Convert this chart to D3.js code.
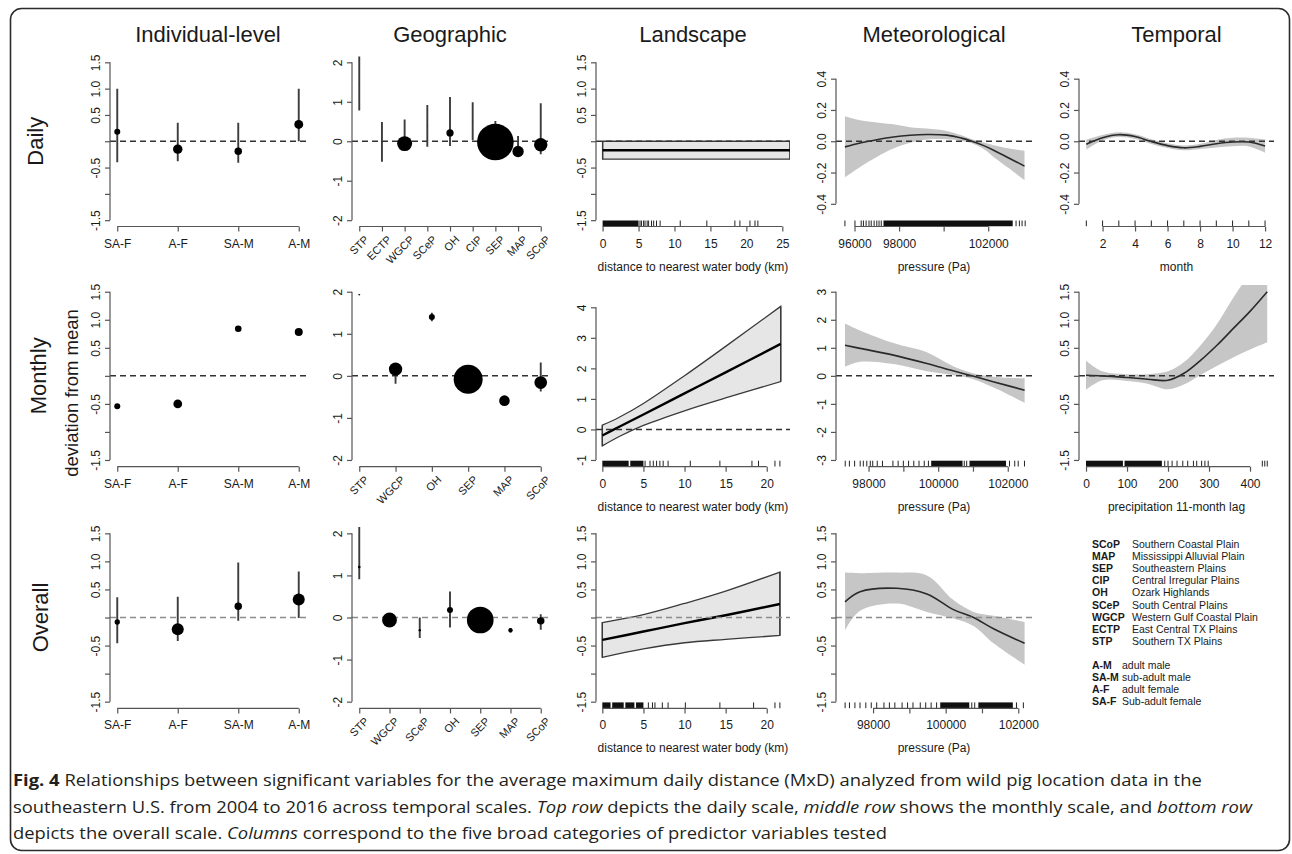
<!DOCTYPE html>
<html>
<head>
<meta charset="utf-8">
<script src="https://cdn.jsdelivr.net/npm/d3@7"></script>
<style>
  body { margin: 0; background: #fff; }
  svg text { font-family: "Liberation Sans", Arial, Helvetica, sans-serif; fill: #1a1a1a; }
</style>
</head>
<body>
<svg id="fig" width="1292" height="854"></svg>
<script>
// ---- labels ----
const columnTitles = ['Individual-level', 'Geographic', 'Landscape', 'Meteorological', 'Temporal'];
const rowTitles = ['Daily', 'Monthly', 'Overall'];

// ---- individual-level (sex / age class) ----
const sexAge = ['SA-F', 'A-F', 'SA-M', 'A-M'];
const indivDailyEst = [0.18, -0.15, -0.19, 0.32];
const indivDailyLo = [-0.40, -0.38, -0.41, 0.00];
const indivDailyHi = [1.00, 0.35, 0.35, 1.00];
const indivDailyN = [9, 22, 14, 20];
const indivMonthlyEst = [-0.54, -0.50, 0.84, 0.78];
const indivMonthlyLo = [-0.56, -0.53, 0.82, 0.76];
const indivMonthlyHi = [-0.52, -0.47, 0.86, 0.80];
const indivMonthlyN = [9, 19, 11, 16];
const indivOverallEst = [-0.08, -0.21, 0.20, 0.32];
const indivOverallLo = [-0.46, -0.42, -0.06, -0.01];
const indivOverallHi = [0.36, 0.37, 0.98, 0.82];
const indivOverallN = [7, 36, 14, 36];

// ---- geographic (ecoregion) ----
const geoDailyCats = ['STP', 'ECTP', 'WGCP', 'SCeP', 'OH', 'CIP', 'SEP', 'MAP', 'SCoP'];
const geoDailyEst = [1.45, 0.00, -0.06, 0.39, 0.21, 0.50, -0.02, -0.26, -0.09];
const geoDailyLo = [0.78, -0.52, -0.20, -0.14, -0.12, 0.03, -0.30, -0.30, -0.33];
const geoDailyHi = [2.15, 0.49, 0.55, 0.92, 1.12, 0.99, 0.51, 0.13, 0.96];
const geoDailyN = [0.1, 0.1, 56, 0.1, 13, 0.1, 335, 32, 45];
const geoMonthlyCats = ['STP', 'WGCP', 'OH', 'SEP', 'MAP', 'SCoP'];
const geoMonthlyEst = [1.93, 0.16, 1.40, -0.08, -0.59, -0.16];
const geoMonthlyLo = [1.92, -0.19, 1.30, -0.10, -0.61, -0.37];
const geoMonthlyHi = [1.94, 0.30, 1.50, -0.06, -0.57, 0.32];
const geoMonthlyN = [0.5, 45, 9, 210, 28, 40];
const geoOverallCats = ['STP', 'WGCP', 'SCeP', 'OH', 'SEP', 'MAP', 'SCoP'];
const geoOverallEst = [1.20, -0.06, -0.30, 0.18, -0.06, -0.30, -0.08];
const geoOverallLo = [0.91, -0.08, -0.49, -0.24, -0.08, -0.36, -0.29];
const geoOverallHi = [2.15, -0.04, 0.00, 0.62, -0.04, -0.25, 0.08];
const geoOverallN = [1.7, 55, 1.4, 9, 178, 4.8, 14];

// ---- landscape: distance to nearest water body (km) ----
const waterDailyKm = [0, 26.07];
const waterDailyFit = [-0.17, -0.17];
const waterDailyLo = [-0.34, -0.34];
const waterDailyHi = [0.00, 0.00];
const waterDailyRug = [5.2, 5.4, 5.7, 5.9, 6.2, 6.4, 6.8, 7.1, 7.5, 8.0, 10.8, 14.5, 18.4, 19.1, 20.5, 21.2, 21.6];
const waterDailyRugDense = [[0, 5.0]];
const waterMonthlyKm = [0, 2, 5, 10, 15, 21.7];
const waterMonthlyFit = [-0.20, 0.08, 0.49, 1.18, 1.87, 2.80];
const waterMonthlyLo = [-0.54, -0.24, 0.13, 0.61, 1.03, 1.57];
const waterMonthlyHi = [0.14, 0.39, 0.85, 1.76, 2.72, 4.03];
const waterMonthlyRug = [5.2, 5.8, 6.2, 6.6, 7.0, 7.4, 8.0, 10.7, 14.3, 18.2, 19.0, 21.0, 21.6];
const waterMonthlyRugDense = [[0, 3.2], [3.4, 5.0]];
const waterOverallKm = [0, 5, 10, 15, 21.6];
const waterOverallFit = [-0.40, -0.25, -0.10, 0.04, 0.24];
const waterOverallLo = [-0.71, -0.56, -0.45, -0.39, -0.32];
const waterOverallHi = [-0.09, 0.05, 0.25, 0.47, 0.81];
const waterOverallRug = [5.6, 6.1, 6.4, 7.3, 8.0, 10.1, 14.3, 18.4, 21.0, 21.6];
const waterOverallRugDense = [[0, 1.0], [1.2, 2.6], [2.8, 3.9], [4.1, 5.0]];

// ---- meteorological: pressure (Pa) ----
const presDailyPa = [95570, 96250, 97000, 97740, 98500, 99240, 100140, 100800, 101270, 101800, 102240, 102900, 103630];
const presDailyFit = [-0.036, -0.011, 0.010, 0.027, 0.038, 0.043, 0.039, 0.020, 0.000, -0.028, -0.057, -0.105, -0.159];
const presDailyLo = [-0.230, -0.164, -0.100, -0.047, -0.010, 0.011, 0.012, 0.002, -0.012, -0.050, -0.100, -0.170, -0.248];
const presDailyHi = [0.160, 0.134, 0.120, 0.108, 0.090, 0.081, 0.066, 0.038, 0.012, -0.008, -0.025, -0.045, -0.062];
const presDailyRug = [95570, 96020, 96300, 96400, 96520, 96650, 96750, 96880, 97000, 97100, 97200,
  103250, 103400, 103520, 103660];
const presDailyRugDense = [[97300, 103100]];
const presMonthlyPa = [97324, 97755, 98715, 99675, 100400, 100970, 101580, 102484];
const presMonthlyFit = [1.09, 0.98, 0.74, 0.44, 0.19, 0.00, -0.21, -0.51];
const presMonthlyLo = [0.32, 0.50, 0.42, 0.16, 0.03, -0.10, -0.41, -0.96];
const presMonthlyHi = [1.87, 1.62, 1.17, 0.84, 0.36, 0.10, -0.03, -0.09];
const presMonthlyRug = [97330, 97450, 97600, 97760, 97850, 97950, 98050, 98120, 98250, 98400, 98700, 98850, 99000,
  99150, 99300, 99450, 99600, 99720, 100750, 100820, 102050, 102200, 102300, 102480];
const presMonthlyRugDense = [[99800, 100700], [100900, 101950]];
const presOverallPa = [97228, 97641, 98654, 99481, 100215, 100767, 101319, 102174];
const presOverallFit = [0.28, 0.46, 0.52, 0.42, 0.14, 0.00, -0.20, -0.46];
const presOverallLo = [-0.23, 0.12, 0.25, 0.10, -0.02, -0.15, -0.46, -0.84];
const presOverallHi = [0.80, 0.79, 0.80, 0.75, 0.31, 0.10, 0.03, -0.08];
const presOverallRug = [97230, 97350, 97500, 97640, 97800, 97950, 98100, 98300, 98450, 98600, 98800, 98950, 99100,
  99300, 99450, 99600, 99750, 100720, 100800, 101950, 102140];
const presOverallRugDense = [[99850, 100650], [100900, 101850]];

// ---- temporal ----
const months = [1, 2, 3, 4, 5, 6, 7, 8, 9, 10, 11, 12];
const monthFit = [-0.019, 0.023, 0.042, 0.030, -0.002, -0.028, -0.042, -0.033, -0.016, -0.005, -0.005, -0.030];
const monthLo = [-0.053, 0.005, 0.027, 0.015, -0.017, -0.043, -0.058, -0.050, -0.040, -0.032, -0.033, -0.072];
const monthHi = [0.011, 0.040, 0.057, 0.045, 0.013, -0.013, -0.027, -0.016, 0.008, 0.022, 0.023, 0.012];
const precip = [0, 40, 100, 150, 200, 240, 280, 320, 360, 400, 442];
const precipFit = [0.01, 0.00, -0.03, -0.06, -0.08, 0.05, 0.28, 0.55, 0.85, 1.15, 1.50];
const precipLo = [-0.25, -0.08, -0.09, -0.14, -0.24, -0.15, 0.02, 0.18, 0.33, 0.47, 0.60];
const precipHi = [0.27, 0.08, 0.03, 0.03, 0.08, 0.25, 0.55, 0.93, 1.40, 1.85, 2.40];
const precipRug = [192, 200, 210, 222, 236, 248, 262, 270, 282, 290, 298, 430, 436, 442];
const precipRugDense = [[0, 90], [94, 185]];

// ---- ticks ----
const halfTicks = [-1.5, -1, -0.5, 0, 0.5, 1, 1.5];
const halfLabels = ['-1.5', '', '-0.5', '', '0.5', '1.0', '1.5'];
const geoTicks = [-2, -1, 0, 1, 2];
const geoLabels = ['-2', '-1', '0', '1', '2'];
const waterMTicks = [-1, 0, 1, 2, 3, 4];
const waterMLabels = ['-1', '0', '1', '2', '3', '4'];
const smallTicks = [-0.4, -0.2, 0, 0.2, 0.4];
const smallLabels = ['-0.4', '-0.2', '0.0', '0.2', '0.4'];
const threeTicks = [-3, -2, -1, 0, 1, 2, 3];
const threeLabels = ['-3', '-2', '-1', '0', '1', '2', '3'];
const kmTicksDaily = [0, 5, 10, 15, 20, 25];
const kmTicks = [0, 5, 10, 15, 20];
const paTicksDaily = [96000, 98000, 100000, 102000];
const paLabelsDaily = ['96000', '98000', '', '102000'];
const paTicks = [98000, 99000, 100000, 101000, 102000];
const paLabels = ['98000', '', '100000', '', '102000'];
const monthTicks = [2, 4, 6, 8, 10, 12];
const precipTicks = [0, 100, 200, 300, 400];

// ---- legend ----
const ecoCodes = ['SCoP', 'MAP', 'SEP', 'CIP', 'OH', 'SCeP', 'WGCP', 'ECTP', 'STP'];
const ecoNames = ['Southern Coastal Plain', 'Mississippi Alluvial Plain', 'Southeastern Plains', 'Central Irregular Plains',
  'Ozark Highlands', 'South Central Plains', 'Western Gulf Coastal Plain', 'East Central TX Plains', 'Southern TX Plains'];
const classCodes = ['A-M', 'SA-M', 'A-F', 'SA-F'];
const classNames = ['adult male', 'sub-adult male', 'adult female', 'Sub-adult female'];

// ---- caption ----
const captionLines = [
  [['Fig. 4', 'b'], [' Relationships between significant variables for the average maximum daily distance (MxD) analyzed from wild pig location data in the', '']],
  [['southeastern U.S. from 2004 to 2016 across temporal scales. ', ''], ['Top row', 'i'], [' depicts the daily scale, ', ''],
   ['middle row', 'i'], [' shows the monthly scale, and ', ''], ['bottom row', 'i']],
  [['depicts the overall scale. ', ''], ['Columns', 'i'], [' correspond to the five broad categories of predictor variables tested', '']]
];

// ================= drawing =================
const svg = d3.select('#fig');
svg.append('rect').attr('width', 1292).attr('height', 854).attr('fill', '#fff');
svg.append('rect')
  .attr('x', 10.5).attr('y', 8.5).attr('width', 1279).attr('height', 842).attr('rx', 11)
  .attr('fill', 'none').attr('stroke', '#2b2b2b').attr('stroke-width', 1.6);

const colX = [[110, 306], [352, 548], [596, 790], [836, 1032], [1079, 1274]];
const rowY = [[56, 226.5], [285, 466.7], [526.6, 708.4]];
const axisColor = '#555';
const rScale = d3.scaleSqrt().domain([0, 100]).range([0, 10]);

function makePanel(row, col, xDomain, yDomain) {
  const [l, r] = colX[col], [t, b] = rowY[row];
  const g = svg.append('g');
  const x = d3.scaleLinear().domain(xDomain).range([l, r]);
  const y = d3.scaleLinear().domain(yDomain).range([b, t]);
  const id = 'clip' + row + col;
  svg.append('clipPath').attr('id', id)
    .append('rect').attr('x', l).attr('y', t).attr('width', r - l).attr('height', b - t);
  const plot = g.append('g').attr('clip-path', 'url(#' + id + ')');
  return { g, plot, x, y, l, r, t, b, row };
}

function styleAxis(ax) {
  ax.attr('font-family', null).attr('font-size', 12);
  ax.selectAll('.domain, .tick line').attr('stroke', axisColor).attr('stroke-width', 1.2);
  ax.selectAll('.tick text').attr('fill', '#1a1a1a');
}

function yAxis(p, ticks, labels) {
  const ax = p.g.append('g').attr('transform', 'translate(' + p.l + ',0)')
    .call(d3.axisLeft(p.y).tickValues(ticks).tickFormat((d, i) => labels[i]).tickSize(5).tickSizeOuter(0));
  ax.select('.domain').attr('d', 'M0,' + p.y(d3.min(ticks)) + 'V' + p.y(d3.max(ticks)));
  ax.selectAll('.tick text')
    .attr('transform', 'rotate(-90)').attr('x', 0).attr('y', -10).attr('dy', 0)
    .attr('text-anchor', 'middle');
  styleAxis(ax);
}

function xAxis(p, ticks, labels, rotated) {
  const ax = p.g.append('g').attr('transform', 'translate(0,' + p.b + ')')
    .call(d3.axisBottom(p.x).tickValues(ticks).tickFormat((d, i) => labels[i]).tickSize(5).tickSizeOuter(0));
  ax.select('.domain').attr('d', 'M' + p.x(ticks[0]) + ',0H' + p.x(ticks[ticks.length - 1]));
  styleAxis(ax);
  if (rotated) {
    ax.selectAll('.tick text')
      .attr('transform', 'translate(7,11) rotate(-45)').attr('x', 0).attr('y', 0).attr('dy', '0.35em')
      .attr('text-anchor', 'end').attr('font-size', 11);
  } else {
    ax.selectAll('.tick text').attr('y', 21).attr('dy', 0);
  }
}

function xTitle(p, txt) {
  p.g.append('text').attr('x', (p.l + p.r) / 2).attr('y', p.b + 44)
    .attr('text-anchor', 'middle').attr('font-size', 12).text(txt);
}

function zeroLine(p) {
  p.plot.append('line')
    .attr('x1', p.l).attr('x2', p.r).attr('y1', p.y(0)).attr('y2', p.y(0))
    .attr('stroke', p.row === 2 ? '#8c8c8c' : '#333').attr('stroke-width', 1.5)
    .attr('stroke-dasharray', '6,4');
}

function drawCats(p, est, lo, hi, n) {
  zeroLine(p);
  const rows = est.map((e, i) => ({ i: i + 1, e, lo: lo[i], hi: hi[i], n: n[i] }));
  p.plot.selectAll('line.ci').data(rows).join('line').attr('class', 'ci')
    .attr('x1', d => p.x(d.i)).attr('x2', d => p.x(d.i))
    .attr('y1', d => p.y(d.lo)).attr('y2', d => p.y(d.hi))
    .attr('stroke', '#3c3c3c').attr('stroke-width', 1.9);
  p.plot.selectAll('circle.pt').data(rows).join('circle').attr('class', 'pt')
    .attr('cx', d => p.x(d.i)).attr('cy', d => p.y(d.e)).attr('r', d => rScale(d.n))
    .attr('fill', '#000');
}

function drawSmooth(p, xs, fit, lo, hi, outlined) {
  const rows = xs.map((v, i) => ({ v, f: fit[i], lo: lo[i], hi: hi[i] }));
  const curve = d3.curveCatmullRom.alpha(0.5);
  const area = d3.area().x(d => p.x(d.v)).y0(d => p.y(d.lo)).y1(d => p.y(d.hi)).curve(curve);
  p.plot.append('path').datum(rows).attr('d', area)
    .attr('fill', outlined ? '#e6e6e6' : '#c6c6c6')
    .attr('stroke', outlined ? '#3a3a3a' : 'none').attr('stroke-width', 1.3);
  if (outlined) {
    // close the band at both ends the way a polygon outline does
    p.plot.selectAll('line.edge').data([rows[0], rows[rows.length - 1]]).join('line')
      .attr('x1', d => p.x(d.v)).attr('x2', d => p.x(d.v))
      .attr('y1', d => p.y(d.lo)).attr('y2', d => p.y(d.hi))
      .attr('stroke', '#3a3a3a').attr('stroke-width', 1.3);
  }
  p.plot.append('path').datum(rows)
    .attr('d', d3.line().x(d => p.x(d.v)).y(d => p.y(d.f)).curve(curve))
    .attr('fill', 'none').attr('stroke', outlined ? '#000' : '#2a2a2a').attr('stroke-width', outlined ? 2.4 : 1.6);
  zeroLine(p);
}

function drawRug(p, ticks, dense) {
  const h = 6;
  p.plot.selectAll('rect.rugd').data(dense).join('rect').attr('class', 'rugd')
    .attr('x', d => p.x(d[0])).attr('width', d => p.x(d[1]) - p.x(d[0]))
    .attr('y', p.b - h).attr('height', h).attr('fill', '#111');
  p.plot.selectAll('line.rug').data(ticks).join('line').attr('class', 'rug')
    .attr('x1', d => p.x(d)).attr('x2', d => p.x(d)).attr('y1', p.b).attr('y2', p.b - h)
    .attr('stroke', '#222').attr('stroke-width', 1);
}

const catIdx = cats => cats.map((c, i) => i + 1);
const catDomain = cats => [1 - 0.04 * (cats.length - 1), cats.length + 0.04 * (cats.length - 1)];

// ---- Individual-level ----
[[indivDailyEst, indivDailyLo, indivDailyHi, indivDailyN],
 [indivMonthlyEst, indivMonthlyLo, indivMonthlyHi, indivMonthlyN],
 [indivOverallEst, indivOverallLo, indivOverallHi, indivOverallN]].forEach((s, row) => {
  const p = makePanel(row, 0, catDomain(sexAge), [-1.62, 1.62]);
  drawCats(p, s[0], s[1], s[2], s[3]);
  yAxis(p, halfTicks, halfLabels);
  xAxis(p, catIdx(sexAge), sexAge, false);
});

// ---- Geographic ----
[[geoDailyCats, geoDailyEst, geoDailyLo, geoDailyHi, geoDailyN],
 [geoMonthlyCats, geoMonthlyEst, geoMonthlyLo, geoMonthlyHi, geoMonthlyN],
 [geoOverallCats, geoOverallEst, geoOverallLo, geoOverallHi, geoOverallN]].forEach((s, row) => {
  const p = makePanel(row, 1, catDomain(s[0]), [-2.16, 2.16]);
  drawCats(p, s[1], s[2], s[3], s[4]);
  yAxis(p, geoTicks, geoLabels);
  xAxis(p, catIdx(s[0]), s[0], true);
});

// ---- Landscape ----
{
  const p = makePanel(0, 2, [-0.92, 26.07], [-1.62, 1.62]);
  drawSmooth(p, waterDailyKm, waterDailyFit, waterDailyLo, waterDailyHi, true);
  drawRug(p, waterDailyRug, waterDailyRugDense);
  yAxis(p, halfTicks, halfLabels);
  xAxis(p, kmTicksDaily, kmTicksDaily.map(String), false);
  xTitle(p, 'distance to nearest water body (km)');
}
{
  const p = makePanel(1, 2, [-0.77, 22.83], [-1.22, 4.73]);
  drawSmooth(p, waterMonthlyKm, waterMonthlyFit, waterMonthlyLo, waterMonthlyHi, true);
  drawRug(p, waterMonthlyRug, waterMonthlyRugDense);
  yAxis(p, waterMTicks, waterMLabels);
  xAxis(p, kmTicks, kmTicks.map(String), false);
  xTitle(p, 'distance to nearest water body (km)');
}
{
  const p = makePanel(2, 2, [-0.77, 22.83], [-1.62, 1.62]);
  drawSmooth(p, waterOverallKm, waterOverallFit, waterOverallLo, waterOverallHi, true);
  drawRug(p, waterOverallRug, waterOverallRugDense);
  yAxis(p, halfTicks, halfLabels);
  xAxis(p, kmTicks, kmTicks.map(String), false);
  xTitle(p, 'distance to nearest water body (km)');
}

// ---- Meteorological ----
{
  const p = makePanel(0, 3, [95169, 103966], [-0.545, 0.545]);
  drawSmooth(p, presDailyPa, presDailyFit, presDailyLo, presDailyHi, false);
  drawRug(p, presDailyRug, presDailyRugDense);
  yAxis(p, smallTicks, smallLabels);
  xAxis(p, paTicksDaily, paLabelsDaily, false);
  xTitle(p, 'pressure (Pa)');
}
{
  const p = makePanel(1, 3, [97065, 102696], [-3.24, 3.24]);
  drawSmooth(p, presMonthlyPa, presMonthlyFit, presMonthlyLo, presMonthlyHi, false);
  drawRug(p, presMonthlyRug, presMonthlyRugDense);
  yAxis(p, threeTicks, threeLabels);
  xAxis(p, paTicks, paLabels, false);
  xTitle(p, 'pressure (Pa)');
}
{
  const p = makePanel(2, 3, [96979, 102378], [-1.62, 1.62]);
  drawSmooth(p, presOverallPa, presOverallFit, presOverallLo, presOverallHi, false);
  drawRug(p, presOverallRug, presOverallRugDense);
  yAxis(p, halfTicks, halfLabels);
  xAxis(p, paTicks, paLabels, false);
  xTitle(p, 'pressure (Pa)');
}

// ---- Temporal ----
{
  const p = makePanel(0, 4, [0.55, 12.55], [-0.545, 0.545]);
  drawSmooth(p, months, monthFit, monthLo, monthHi, false);
  drawRug(p, months, []);
  yAxis(p, smallTicks, smallLabels);
  xAxis(p, monthTicks, monthTicks.map(String), false);
  xTitle(p, 'month');
}
{
  const p = makePanel(1, 4, [-17.1, 458.5], [-1.62, 1.62]);
  drawSmooth(p, precip, precipFit, precipLo, precipHi, false);
  drawRug(p, precipRug, precipRugDense);
  yAxis(p, halfTicks, halfLabels);
  xAxis(p, precipTicks, precipTicks.map(String), false);
  xTitle(p, 'precipitation 11-month lag');
}

// ---- column and row titles ----
svg.selectAll('text.coltitle').data(columnTitles).join('text').attr('class', 'coltitle')
  .attr('x', (d, i) => (colX[i][0] + colX[i][1]) / 2).attr('y', 42)
  .attr('text-anchor', 'middle').attr('font-size', 22).text(d => d);

const rowLabelX = [43, 46, 48];
svg.selectAll('text.rowtitle').data(rowTitles).join('text').attr('class', 'rowtitle')
  .attr('transform', (d, i) => 'translate(' + rowLabelX[i] + ',' + ((rowY[i][0] + rowY[i][1]) / 2) + ') rotate(-90)')
  .attr('text-anchor', 'middle').attr('font-size', 22).text(d => d);
svg.append('text').attr('transform', 'translate(78,393) rotate(-90)')
  .attr('text-anchor', 'middle').attr('font-size', 18.5).text('deviation from mean');

// ---- legend ----
const legend = svg.append('g').attr('font-size', 10.5);
legend.selectAll('text.ecoc').data(ecoCodes).join('text').attr('class', 'ecoc')
  .attr('x', 1092).attr('y', (d, i) => 548 + i * 12.1).attr('font-weight', 'bold').text(d => d);
legend.selectAll('text.econ').data(ecoNames).join('text').attr('class', 'econ')
  .attr('x', 1132).attr('y', (d, i) => 548 + i * 12.1).text(d => d);
legend.selectAll('text.clc').data(classCodes).join('text').attr('class', 'clc')
  .attr('x', 1092).attr('y', (d, i) => 668.5 + i * 12.3).attr('font-weight', 'bold').text(d => d);
legend.selectAll('text.cln').data(classNames).join('text').attr('class', 'cln')
  .attr('x', 1122).attr('y', (d, i) => 668.5 + i * 12.3).text(d => d);

// ---- caption ----
// the journal face is wider than Open Sans: stretch so the first line ends where it does in print
const cap = svg.append('g');
const capLines = captionLines.map((parts, i) => {
  const t = cap.append('text').attr('x', 0).attr('y', 0)
    .style('font-family', '"Open Sans", "Noto Sans", sans-serif').attr('font-size', 16.5).style('fill', '#231f20');
  parts.forEach(([s, f]) => {
    t.append('tspan').text(s)
      .attr('font-weight', f === 'b' ? 'bold' : null)
      .attr('font-style', f === 'i' ? 'italic' : null);
  });
  return t;
});
const stretch = 1189 / capLines[0].node().getComputedTextLength();
capLines.forEach((t, i) => t.attr('transform', 'translate(13,' + (786 + i * 26.5) + ') scale(' + stretch + ',1)'));
</script>
</body>
</html>
